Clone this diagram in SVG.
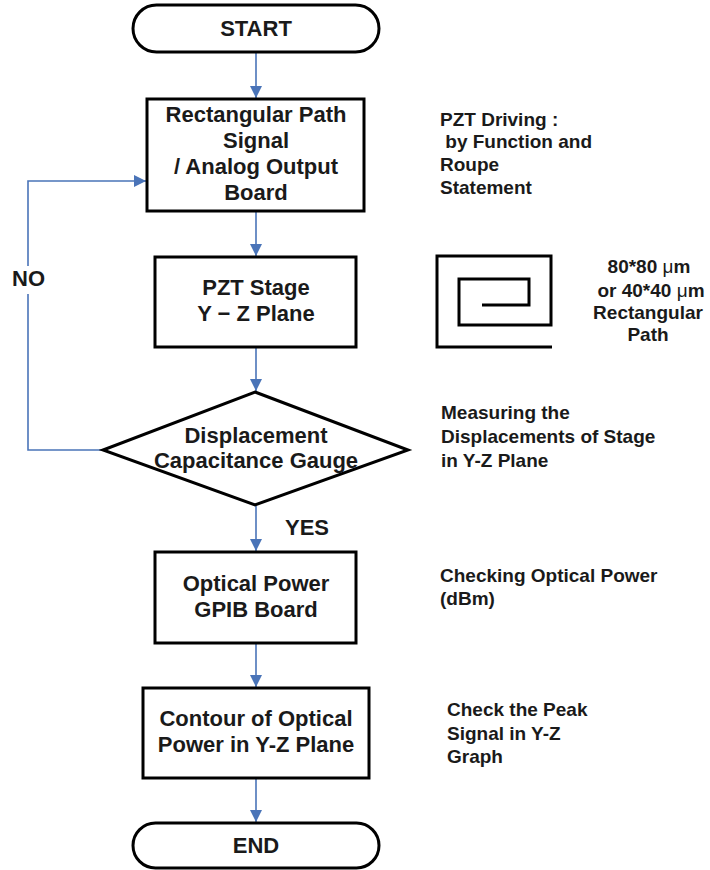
<svg xmlns="http://www.w3.org/2000/svg" width="710" height="870" viewBox="0 0 710 870">
  <style>
    .node { fill: #ffffff; stroke: #000000; stroke-width: 3; }
    .t { font-family: "Liberation Sans", Arial, sans-serif; font-weight: bold; fill: #1a1a1a; }
    .main { font-size: 22px; text-anchor: middle; }
    .note { font-size: 19px; }
    .mu { font-weight: normal; }
    .flow { fill: none; stroke: #4a74b8; stroke-width: 1.6; }
    .spiral { fill: none; stroke: #000000; stroke-width: 3; }
  </style>
  <defs>
    <marker id="arrow" markerUnits="userSpaceOnUse" markerWidth="12" markerHeight="14" viewBox="0 0 12 14" refX="12" refY="7" orient="auto">
      <path d="M0,1 L12,7 L0,13 Z" fill="#4a74b8"/>
    </marker>
  </defs>

  <rect width="710" height="870" fill="#ffffff"/>

  <!-- connectors -->
  <g id="connectors">
    <line class="flow" x1="256" y1="53" x2="256" y2="98" marker-end="url(#arrow)"/>
    <line class="flow" x1="256" y1="212" x2="256" y2="256" marker-end="url(#arrow)"/>
    <line class="flow" x1="256" y1="348" x2="256" y2="391" marker-end="url(#arrow)"/>
    <line class="flow" x1="256" y1="506" x2="256" y2="551" marker-end="url(#arrow)"/>
    <line class="flow" x1="256" y1="644" x2="256" y2="687" marker-end="url(#arrow)"/>
    <line class="flow" x1="256" y1="779" x2="256" y2="822" marker-end="url(#arrow)"/>
    <!-- NO loop back to the signal board -->
    <polyline class="flow" points="103,450 28,450 28,181 146,181" marker-end="url(#arrow)"/>
    <rect x="10" y="266" width="36" height="28" fill="#ffffff"/>
    <text class="t" x="12" y="286" font-size="22">NO</text>
    <text class="t" x="285" y="535" font-size="22">YES</text>
  </g>

  <g id="start">
    <rect class="node" x="133" y="5" width="246" height="47" rx="23.5"/>
    <text class="t main" x="256" y="36">START</text>
  </g>

  <g id="signal-board">
    <rect class="node" x="147" y="99" width="217" height="112"/>
    <text class="t main" x="256" y="122">Rectangular Path</text>
    <text class="t main" x="256" y="148">Signal</text>
    <text class="t main" x="256" y="174">/ Analog Output</text>
    <text class="t main" x="256" y="200">Board</text>
  </g>

  <g id="pzt-stage">
    <rect class="node" x="155" y="257" width="201" height="90"/>
    <text class="t main" x="256" y="295">PZT Stage</text>
    <text class="t main" x="256" y="321">Y − Z Plane</text>
  </g>

  <g id="capacitance-gauge">
    <polygon class="node" points="255,392 408,450 255,505 103,450"/>
    <text class="t main" x="256" y="443">Displacement</text>
    <text class="t main" x="256" y="468">Capacitance Gauge</text>
  </g>

  <g id="optical-power">
    <rect class="node" x="155" y="552" width="201" height="91"/>
    <text class="t main" x="256" y="591">Optical Power</text>
    <text class="t main" x="256" y="617">GPIB Board</text>
  </g>

  <g id="contour">
    <rect class="node" x="143" y="688" width="226" height="90"/>
    <text class="t main" x="256" y="726">Contour of Optical</text>
    <text class="t main" x="256" y="752">Power in Y-Z Plane</text>
  </g>

  <g id="end">
    <rect class="node" x="133" y="823" width="246" height="45" rx="22.5"/>
    <text class="t main" x="256" y="853">END</text>
  </g>

  <!-- side notes -->
  <g id="note-driving">
    <text class="t note" x="440" y="126">PZT Driving :</text>
    <text class="t note" x="440" y="148" xml:space="preserve"> by Function and</text>
    <text class="t note" x="440" y="171">Roupe</text>
    <text class="t note" x="440" y="194">Statement</text>
  </g>

  <g id="path-figure">
    <path class="spiral" d="M552,347 H437 V256 H551 V325 H459 V279 H529 V305 H482"/>
    <text class="t note" x="649" y="273" text-anchor="middle">80*80 <tspan class="mu">μ</tspan>m</text>
    <text class="t note" x="651" y="297" text-anchor="middle">or 40*40 <tspan class="mu">μ</tspan>m</text>
    <text class="t note" x="648" y="319" text-anchor="middle">Rectangular</text>
    <text class="t note" x="648" y="341" text-anchor="middle">Path</text>
  </g>

  <g id="note-measuring">
    <text class="t note" x="441" y="419">Measuring the</text>
    <text class="t note" x="441" y="443">Displacements of Stage</text>
    <text class="t note" x="441" y="467">in Y-Z Plane</text>
  </g>

  <g id="note-checking">
    <text class="t note" x="440" y="582">Checking Optical Power</text>
    <text class="t note" x="440" y="605">(dBm)</text>
  </g>

  <g id="note-peak">
    <text class="t note" x="447" y="716">Check the Peak</text>
    <text class="t note" x="447" y="740">Signal in Y-Z</text>
    <text class="t note" x="447" y="763">Graph</text>
  </g>
</svg>
